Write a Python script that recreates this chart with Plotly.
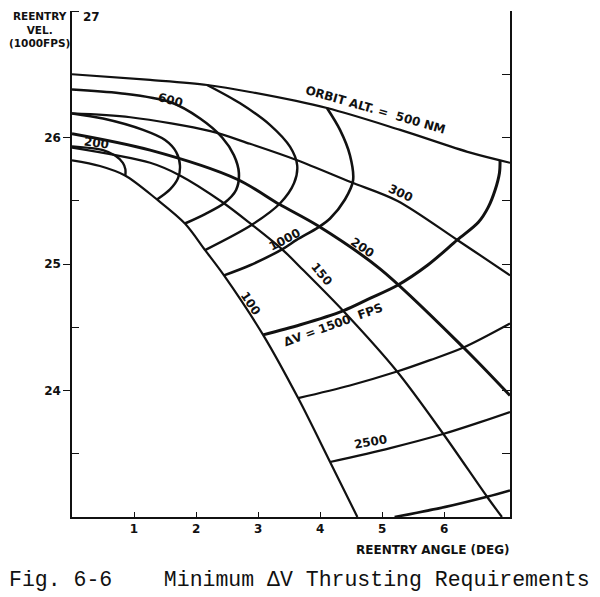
import plotly.graph_objects as go

# ---------------- data (reentry angle in deg, reentry velocity in 1000 fps) -------------
# constant orbit altitude curves (NM)
alt500_x = [0, 1.26, 2.18, 2.87, 4.11, 5.29, 6.42, 7.06]
alt500_v = [26.50, 26.455, 26.415, 26.36, 26.233, 26.06, 25.88, 25.80]

alt300_x = [0, 0.94, 2.23, 2.87, 3.63, 4.48, 5.24, 6.21, 7.06]
alt300_v = [26.19, 26.16, 26.05, 25.95, 25.82, 25.65, 25.50, 25.19, 24.91]

alt200_x = [0, 1.26, 2.66, 3.35, 3.97, 4.97, 6.31, 7.06]
alt200_v = [26.03, 25.90, 25.67, 25.47, 25.30, 24.96, 24.34, 23.96]

alt150_x = [0, 1.26, 1.74, 2.42, 2.90, 3.40, 3.73, 4.37, 5.24, 5.98, 6.69, 6.93]
alt150_v = [25.92, 25.80, 25.70, 25.49, 25.31, 25.11, 24.95, 24.63, 24.15, 23.66, 23.16, 23.0]

alt100_x = [0, 0.45, 0.855, 1.37, 1.82, 2.145, 2.45, 3.08, 3.645, 4.16, 4.6]
alt100_v = [25.82, 25.775, 25.70, 25.51, 25.32, 25.11, 24.91, 24.44, 23.94, 23.435, 23.0]

# constant delta-V curves (FPS)
dv200_x = [0, 0.5, 0.7, 0.82, 0.86, 0.86]
dv200_v = [25.93, 25.90, 25.855, 25.80, 25.75, 25.70]

dv400_x = [0, 0.5, 1.145, 1.5, 1.68, 1.74, 1.71, 1.58, 1.37]
dv400_v = [26.19, 26.15, 26.06, 25.98, 25.885, 25.78, 25.68, 25.59, 25.51]

dv600_x = [0, 0.774, 1.58, 2.065, 2.42, 2.61, 2.69, 2.645, 2.45, 2.145, 1.82]
dv600_v = [26.38, 26.35, 26.28, 26.15, 26.00, 25.86, 25.72, 25.585, 25.48, 25.395, 25.32]

dv800_x = [2.177, 2.71, 3.19, 3.516, 3.63, 3.58, 3.355, 2.90, 2.145]
dv800_v = [26.415, 26.27, 26.10, 25.925, 25.78, 25.64, 25.48, 25.31, 25.11]

dv1000_x = [4.11, 4.32, 4.48, 4.53, 4.40, 4.16, 3.97, 3.62, 3.40, 2.87, 2.45]
dv1000_v = [26.233, 26.06, 25.86, 25.66, 25.51, 25.36, 25.29, 25.19, 25.12, 24.99, 24.91]

dv1500_x = [6.90, 6.89, 6.82, 6.71, 6.55, 6.21, 5.73, 5.24, 4.81, 4.37, 3.68, 3.08]
dv1500_v = [25.82, 25.72, 25.585, 25.45, 25.33, 25.19, 24.99, 24.83, 24.73, 24.63, 24.52, 24.44]

dv2000_x = [3.645, 4.48, 5.24, 5.77, 6.31, 7.06]
dv2000_v = [23.94, 24.04, 24.15, 24.24, 24.34, 24.53]

dv2500_x = [4.16, 5.13, 5.98, 6.58, 7.06]
dv2500_v = [23.435, 23.545, 23.656, 23.75, 23.83]

dv3000_x = [5.2, 6.02, 6.69, 7.06]
dv3000_v = [23.0, 23.08, 23.16, 23.21]

x_tick_vals = [1, 2, 3, 4, 5, 6]
x_tick_text = ["1", "2", "3", "4", "5", "6"]
y_tick_vals = [24, 25, 26]
y_tick_text = ["24", "25", "26"]
y_minor_vals = [23.5, 24.5, 25.5, 26.5, 27]
right_tick_vals = [23.5, 24, 24.5, 25, 25.5, 26, 26.5, 27]

# ---------------- figure -------------
INK = "#111111"
SANS = "DejaVu Sans"

curves = [
    (alt500_x, alt500_v, 2.2),
    (alt300_x, alt300_v, 2.2),
    (alt200_x, alt200_v, 3.0),
    (alt150_x, alt150_v, 2.2),
    (alt100_x, alt100_v, 2.2),
    (dv200_x, dv200_v, 2.4),
    (dv400_x, dv400_v, 2.4),
    (dv600_x, dv600_v, 2.6),
    (dv800_x, dv800_v, 2.4),
    (dv1000_x, dv1000_v, 2.6),
    (dv1500_x, dv1500_v, 3.0),
    (dv2000_x, dv2000_v, 2.2),
    (dv2500_x, dv2500_v, 2.2),
    (dv3000_x, dv3000_v, 2.6),
]

fig = go.Figure()
for cx, cv, w in curves:
    fig.add_trace(go.Scatter(
        x=cx, y=cv, mode="lines",
        line=dict(color=INK, width=w, shape="spline", smoothing=0.9),
        hoverinfo="skip", showlegend=False))

# dummy trace to carry the right-hand frame axis
fig.add_trace(go.Scatter(x=[], y=[], yaxis="y2", showlegend=False, hoverinfo="skip"))

lab_font = dict(family=SANS, size=12, color=INK, weight="bold")
annotations = []

def lab(text, x, y, angle, size=12, xref="x", yref="y", xanchor="center",
        yanchor="middle", family=SANS, weight="bold"):
    annotations.append(dict(text=text, x=x, y=y, xref=xref, yref=yref, showarrow=False,
                            textangle=angle, xanchor=xanchor, yanchor=yanchor,
                            font=dict(family=family, size=size, color=INK, weight=weight)))

NB = "\u00a0"
lab("ORBIT" + NB + "ALT." + NB + "=" + NB + NB + "500" + NB + "NM", 4.90, 26.22, 16, size=12)
lab("300", 5.29, 25.56, 25, size=12)
lab("200", 4.69, 25.13, 35, size=12)
lab("150", 4.02, 24.92, 50, size=12)
lab("100", 2.87, 24.69, 56, size=12)
lab("600", 1.58, 26.30, 15, size=12)
lab("200", 0.39, 25.96, 8, size=12)
lab("1000", 3.42, 25.19, -28, size=12)
lab("\u0394V" + NB + "=" + NB + "1500" + NB + NB + "FPS", 4.20, 24.52, -20, size=12)
lab("2500", 4.81, 23.59, -10, size=12)

# axis texts
lab("27", 0.045, 1.006, 0, size=12, xref="paper", yref="paper", yanchor="top")
lab("REENTRY<br>VEL.<br>(1000FPS)", -0.074, 1.006, 0, size=10.5, xref="paper", yref="paper",
    yanchor="top")
lab("REENTRY" + NB + "ANGLE" + NB + "(DEG)", 0.824, -0.065, 0, size=12, xref="paper", yref="paper")
lab("Fig." + NB + "6-6" + NB * 4 + "Minimum" + NB + "\u0394V" + NB + "Thrusting" + NB + "Requirements",
    0.5205, -0.1245, 0, size=21.5, xref="paper", yref="paper", family="Liberation Mono",
    weight="normal")

# the page body adds an 8px offset, so the figure is 8px smaller and margins shifted
fig.update_layout(
    width=592, height=589,
    margin=dict(l=64, r=90, t=3, b=80),
    paper_bgcolor="white", plot_bgcolor="white",
    annotations=annotations,
    xaxis=dict(range=[0, 7.06], showgrid=False, zeroline=False,
               showline=True, linecolor=INK, linewidth=1.5,
               tickmode="array", tickvals=x_tick_vals, ticktext=x_tick_text,
               ticks="inside", ticklen=5, tickwidth=1.3, tickcolor=INK,
               tickfont=lab_font, fixedrange=True),
    yaxis=dict(range=[23, 27], showgrid=False, zeroline=False,
               showline=True, linecolor=INK, linewidth=1.5,
               tickmode="array", tickvals=y_tick_vals, ticktext=y_tick_text,
               ticks="outside", ticklen=7, tickwidth=1.3, tickcolor=INK,
               tickfont=lab_font,
               minor=dict(tickmode="array", tickvals=y_minor_vals, ticks="inside",
                          ticklen=7, tickwidth=1.2, tickcolor=INK, showgrid=False),
               fixedrange=True),
    yaxis2=dict(range=[23, 27], overlaying="y", side="right", anchor="x",
                showgrid=False, zeroline=False, showline=True, linecolor=INK, linewidth=1.5,
                tickmode="array", tickvals=right_tick_vals, ticks="inside", ticklen=8,
                tickwidth=1.2, tickcolor=INK, showticklabels=False, fixedrange=True),
)

fig.write_html("out.html")
